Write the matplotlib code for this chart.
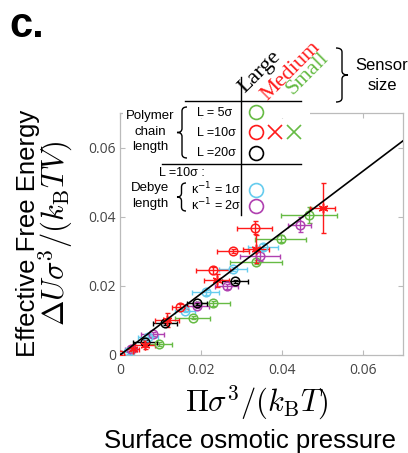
import numpy as np
import matplotlib
matplotlib.use("Agg")
import matplotlib.pyplot as plt
from matplotlib.path import Path
from matplotlib.patches import PathPatch, Rectangle
from matplotlib.lines import Line2D

# ---------------- data ----------------
# L = 5 sigma, large sensor (green circles)
g_x = [0.0096, 0.0180, 0.0230, 0.0336, 0.0397, 0.0467]
g_y = [0.0032, 0.0108, 0.0149, 0.0269, 0.0336, 0.0406]
g_xe = [0.0033, 0.0043, 0.0041, 0.0065, 0.0062, 0.0069]
g_ye = [0.0005, 0.0005, 0.0006, 0.0006, 0.0010, 0.0023]

# L = 10 sigma, large sensor (red circles)
r_x = [0.0000, 0.0148, 0.0230, 0.0279, 0.0333]
r_y = [0.0000, 0.0140, 0.0245, 0.0301, 0.0368]
r_xe = [0.0000, 0.0020, 0.0042, 0.0040, 0.0043]
r_ye = [0.0000, 0.0007, 0.0010, 0.0006, 0.0019]

# L = 10 sigma, medium sensor (red stars)
rs_x = [0.0032, 0.0062, 0.0116, 0.0239, 0.0336, 0.0501]
rs_y = [0.0018, 0.0029, 0.0102, 0.0216, 0.0307, 0.0426]
rs_xe = [0.0015, 0.0025, 0.0030, 0.0030, 0.0032, 0.0031]
rs_ye = [0.0010, 0.0012, 0.0020, 0.0018, 0.0040, 0.0072]

# L = 20 sigma, large sensor (black circles)
k_x = [0.0062, 0.0111, 0.0190, 0.0284]
k_y = [0.0038, 0.0093, 0.0149, 0.0213]
k_xe = [0.0030, 0.0030, 0.0025, 0.0032]
k_ye = [0.0005, 0.0005, 0.0005, 0.0005]

# Debye length 1 sigma (cyan circles)
c_x = [0.0020, 0.0069, 0.0160, 0.0212, 0.0279, 0.0353]
c_y = [0.0008, 0.0053, 0.0128, 0.0181, 0.0248, 0.0312]
c_xe = [0.0015, 0.0025, 0.0025, 0.0033, 0.0035, 0.0037]
c_ye = [0.0004, 0.0005, 0.0005, 0.0006, 0.0006, 0.0008]

# Debye length 2 sigma (magenta circles)
m_x = [0.0027, 0.0081, 0.0190, 0.0264, 0.0346, 0.0444]
m_y = [0.0018, 0.0061, 0.0143, 0.0199, 0.0287, 0.0377]
m_xe = [0.0015, 0.0028, 0.0030, 0.0028, 0.0049, 0.0028]
m_ye = [0.0005, 0.0006, 0.0006, 0.0007, 0.0015, 0.0022]

fit_slope = 0.885
x_limits = [0.0, 0.07]
y_limits = [0.0, 0.07]
ticks = [0, 0.02, 0.04, 0.06]
tick_labels = ["0", "0.02", "0.04", "0.06"]

RED = "#ff1a1a"
GREEN = "#66bb44"
CYAN = "#66ccee"
MAGENTA = "#b040b0"
BLACK = "#000000"

# ---------------- figure ----------------
W, H = 408, 453
fig = plt.figure(figsize=(W / 100, H / 100), dpi=100)


def fx(px):
    return px / W


def fy(py):
    return 1 - py / H


ax = fig.add_axes([fx(120), fy(355), fx(403) - fx(120), fy(113) - fy(355)])

ax.plot(x_limits, [fit_slope * v for v in x_limits], color="black", lw=1.2, zorder=5)

series = [
    (g_x, g_y, g_xe, g_ye, GREEN, "o"),
    (m_x, m_y, m_xe, m_ye, MAGENTA, "o"),
    (c_x, c_y, c_xe, c_ye, CYAN, "o"),
    (k_x, k_y, k_xe, k_ye, BLACK, "o"),
    (r_x, r_y, r_xe, r_ye, RED, "o"),
    (rs_x, rs_y, rs_xe, rs_ye, RED, (6, 2, 0)),
]
for xs, ys, xe, ye, col, mk in series:
    ax.errorbar(xs, ys, xerr=xe, yerr=ye, fmt="none", ecolor=col,
                elinewidth=1.0, capsize=1.8, capthick=1.0, zorder=3)
    ax.plot(xs, ys, linestyle="none", marker=mk, markersize=6.2 if mk == "o" else 7,
            mfc="none", mec=col, mew=1.1, zorder=4)

ax.set_xlim(x_limits)
ax.set_ylim(y_limits)
ax.set_xticks(ticks)
ax.set_xticklabels(tick_labels)
ax.set_yticks(ticks)
ax.set_yticklabels(tick_labels)
for s in ax.spines.values():
    s.set_color("#bbbbbb")
    s.set_linewidth(0.9)
ax.tick_params(direction="in", length=3.5, width=0.8, color="#bbbbbb",
               labelcolor="#444444", labelsize=10, top=True, right=True)
ax.tick_params(axis="x", pad=6)
ax.tick_params(axis="y", pad=3)
for lab in ax.get_xticklabels() + ax.get_yticklabels():
    lab.set_family("Open Sans")

# white legend panel hiding the top spine
fig.patches.append(Rectangle((fx(123), fy(118)), fx(310) - fx(123), fy(100) - fy(118),
                             transform=fig.transFigure, facecolor="white",
                             edgecolor="none", zorder=10))

# axis labels
fig.text(fx(257), fy(403), r"$\Pi\sigma^3/(k_{\rm B}T)$", ha="center", va="center",
         fontsize=22, math_fontfamily="cm")
fig.text(fx(250), fy(441), "Surface osmotic pressure", ha="center", va="center",
         fontsize=18.5, family="Liberation Sans")
fig.text(fx(28), fy(233), "Effective Free Energy", ha="center", va="center",
         rotation=90, fontsize=18.5, family="Liberation Sans")
fig.text(fx(56), fy(233), r"$\Delta U\sigma^3/(k_{\rm B}TV)$", ha="center", va="center",
         rotation=90, fontsize=22, math_fontfamily="cm")
fig.text(fx(9), fy(37), "c.", ha="left", va="baseline", fontsize=30,
         fontweight="bold", family="Liberation Sans")


# ---------------- legend table ----------------
def brace(x_tip, x_end, y0, y1, lw=1.0):
    ym = (y0 + y1) / 2
    xm = (x_tip + x_end) / 2
    r = min(4.0, (y1 - y0) / 6)
    pts = [(x_end, y0), (xm, y0), (xm, y0 + r),
           (xm, ym - r),
           (xm, ym), (x_tip, ym),
           (xm, ym), (xm, ym + r),
           (xm, y1 - r),
           (xm, y1), (x_end, y1)]
    codes = [Path.MOVETO, Path.CURVE3, Path.CURVE3,
             Path.LINETO,
             Path.CURVE3, Path.CURVE3,
             Path.CURVE3, Path.CURVE3,
             Path.LINETO,
             Path.CURVE3, Path.CURVE3]
    verts = [(fx(a), fy(b)) for a, b in pts]
    fig.patches.append(PathPatch(Path(verts, codes), transform=fig.transFigure,
                                 facecolor="none", edgecolor="black", lw=lw, zorder=11))


def hline(x0, x1, y):
    fig.lines.append(Line2D([fx(x0), fx(x1)], [fy(y), fy(y)], transform=fig.transFigure,
                            color="black", lw=1.0, zorder=11))


def vline(x, y0, y1):
    fig.lines.append(Line2D([fx(x), fx(x)], [fy(y0), fy(y1)], transform=fig.transFigure,
                            color="black", lw=1.0, zorder=11))


def marker(x, y, mk, col, ms=10):
    fig.lines.append(Line2D([fx(x)], [fy(y)], transform=fig.transFigure, marker=mk,
                            markersize=ms, mfc="none", mec=col, mew=1.2,
                            linestyle="none", zorder=11))


vline(241, 77, 215)
hline(185, 301, 101)
hline(162, 301, 164)

# column headers
for txt, col, xp, yp in [("Large", BLACK, 245, 93), ("Medium", RED, 267, 101),
                         ("Small", GREEN, 292, 95)]:
    fig.text(fx(xp), fy(yp), txt, color=col, rotation=45, rotation_mode="anchor",
             ha="left", va="baseline", fontsize=16, family="Liberation Serif", zorder=11)

brace(348, 336, 48, 102, lw=1.0)
fig.text(fx(382), fy(66), "Sensor", ha="center", va="center", fontsize=12,
         family="Liberation Sans", zorder=11)
fig.text(fx(382), fy(85), "size", ha="center", va="center", fontsize=12,
         family="Liberation Sans", zorder=11)

sans = "Liberation Sans"
for t, yp in [("Polymer", 116), ("chain", 132), ("length", 147)]:
    fig.text(fx(150), fy(yp), t, ha="center", va="center", fontsize=9.5, family=sans, zorder=11)
brace(177, 187, 107, 158)
for t, yp in [("L = 5σ", 113), ("L =10σ", 133), ("L =20σ", 153)]:
    fig.text(fx(197), fy(yp), t, ha="left", va="center", fontsize=9, family=sans, zorder=11)

marker(256, 112, "o", GREEN)
marker(256, 132, "o", RED)
marker(275, 132, "x", RED)
marker(294, 132, "x", GREEN)
marker(256, 153, "o", BLACK)

fig.text(fx(182), fy(173), "L =10σ :", ha="center", va="center", fontsize=9, family=sans, zorder=11)
for t, yp in [("Debye", 188), ("length", 204)]:
    fig.text(fx(150), fy(yp), t, ha="center", va="center", fontsize=9.5, family=sans, zorder=11)
brace(177, 186, 183, 211)
for t, yp in [("κ$^{-1}$ = 1σ", 189), ("κ$^{-1}$ = 2σ", 205)]:
    fig.text(fx(191), fy(yp), t, ha="left", va="center", fontsize=9, family=sans,
             math_fontfamily="dejavusans", zorder=11)
marker(256, 190, "o", CYAN)
marker(256, 206, "o", MAGENTA)

fig.savefig("out.png", dpi=100)
